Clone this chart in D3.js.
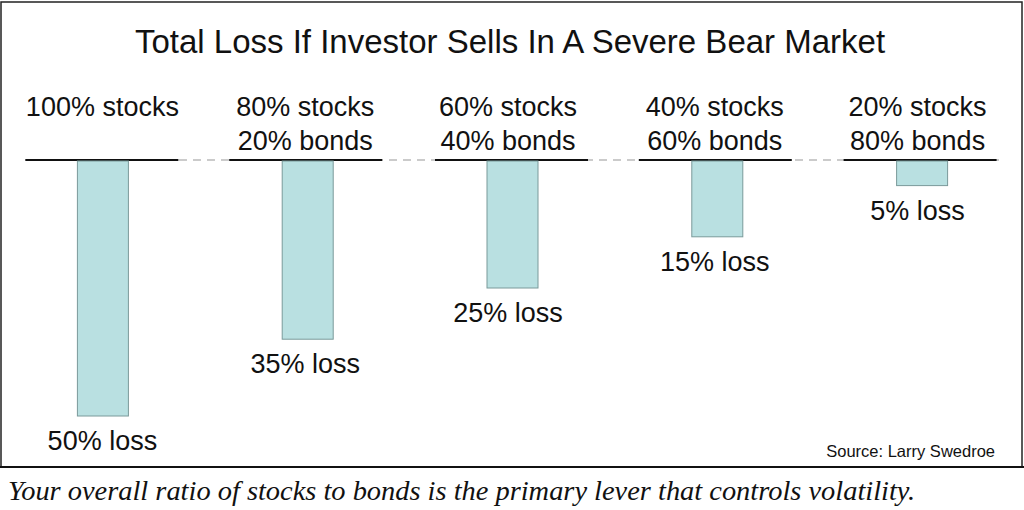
<!DOCTYPE html><html><head><meta charset="utf-8"><script src="https://cdn.jsdelivr.net/npm/d3@7"></script>
<style>body{margin:0;background:#fff}</style></head><body><svg id="c" width="1024" height="510"></svg><script>
const line1=["100% stocks","80% stocks","60% stocks","40% stocks","20% stocks"];
const line2=["","20% bonds","40% bonds","60% bonds","80% bonds"];
const losses=[50,35,25,15,5];
const lossLabels=["50% loss","35% loss","25% loss","15% loss","5% loss"];
const svg=d3.select("#c");
const x=d3.scaleBand().domain(d3.range(5)).range([0,1024]).paddingInner(0);
const cx=i=>x(i)+x.bandwidth()/2;
const y=d3.scaleLinear().domain([0,50]).range([160,416]);
const F="Liberation Sans, Arial, sans-serif";
svg.append("rect").attr("x",1).attr("y",2).attr("width",1021).attr("height",465).attr("fill","none").attr("stroke","#222").attr("stroke-width",1.5);
svg.append("line").attr("x1",0).attr("x2",1024).attr("y1",467).attr("y2",467).attr("stroke","#111").attr("stroke-width",2);
svg.append("text").attr("x",510).attr("y",53).attr("text-anchor","middle").attr("font-family",F).attr("font-size",33).attr("fill","#111").text("Total Loss If Investor Sells In A Severe Bear Market");
svg.append("line").attr("x1",25).attr("x2",999).attr("y1",160).attr("y2",160).attr("stroke","#bbb").attr("stroke-width",1.5).attr("stroke-dasharray","8,6");
const segOff=[0,-1,0,-1,-1];
const txtOff=[0,-2,-4,-2,-4];
const g=svg.selectAll("g.c").data(losses).join("g");
g.append("line").attr("x1",(d,i)=>cx(i)-77+segOff[i]).attr("x2",(d,i)=>cx(i)+76+segOff[i]).attr("y1",160).attr("y2",160).attr("stroke","#111").attr("stroke-width",2);
g.append("rect").attr("x",(d,i)=>cx(i)-25).attr("width",51).attr("y",161).attr("height",d=>y(d)-161).attr("fill","#b9e0e1").attr("stroke","#7a9a9a").attr("stroke-width",1);
g.append("text").attr("x",(d,i)=>cx(i)+txtOff[i]).attr("y",116).attr("text-anchor","middle").attr("font-family",F).attr("font-size",27).attr("fill","#111").text((d,i)=>line1[i]);
g.append("text").attr("x",(d,i)=>cx(i)+txtOff[i]).attr("y",150).attr("text-anchor","middle").attr("font-family",F).attr("font-size",27).attr("fill","#111").text((d,i)=>line2[i]);
g.append("text").attr("x",(d,i)=>cx(i)+txtOff[i]).attr("y",d=>y(d)+34).attr("text-anchor","middle").attr("font-family",F).attr("font-size",27).attr("fill","#111").text((d,i)=>lossLabels[i]);
svg.append("text").attr("x",995).attr("y",457).attr("text-anchor","end").attr("font-family",F).attr("font-size",16.5).attr("fill","#111").text("Source: Larry Swedroe");
svg.append("text").attr("x",8).attr("y",500).attr("font-family","Liberation Serif, Times New Roman, serif").attr("font-style","italic").attr("font-size",28).attr("fill","#111").attr("textLength",907).attr("lengthAdjust","spacingAndGlyphs").text("Your overall ratio of stocks to bonds is the primary lever that controls volatility.");
</script></body></html>
